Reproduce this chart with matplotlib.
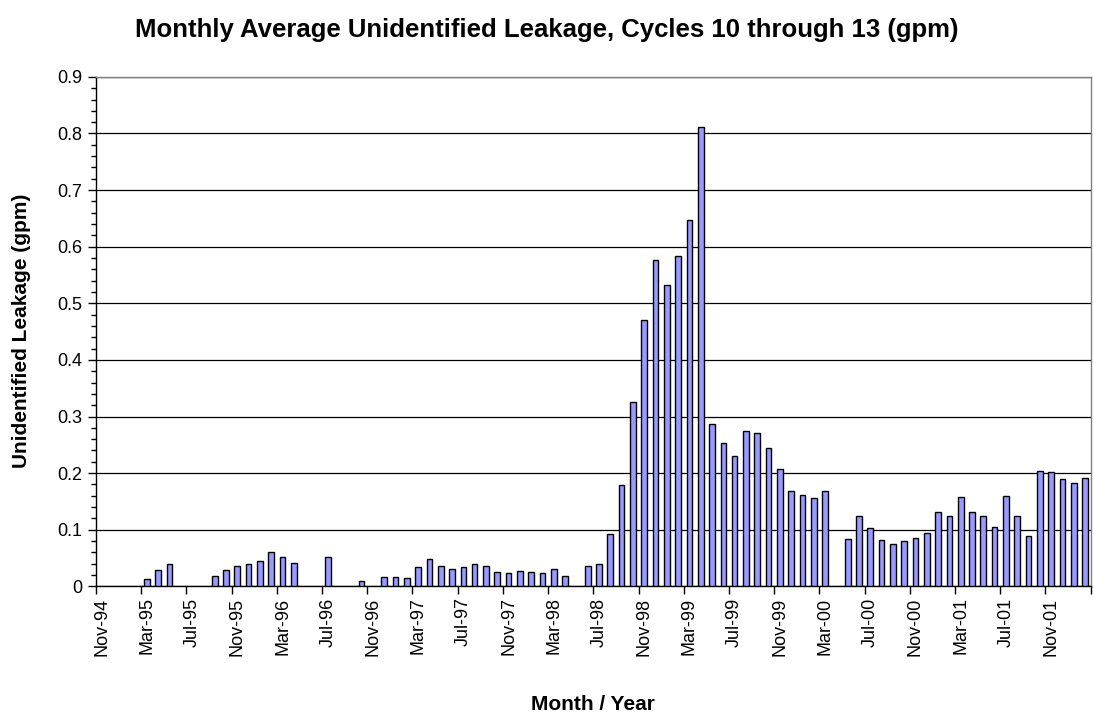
import matplotlib
matplotlib.use("Agg")
import matplotlib.pyplot as plt
import numpy as np
import pandas as pd
from matplotlib.ticker import MultipleLocator, FixedLocator

plt.rcParams['font.family'] = ['Liberation Sans', 'DejaVu Sans']

# Categories: monthly, Nov-1994 through Feb-2002
start_month = "1994-11-01"
end_month = "2002-02-01"
months = pd.date_range(start_month, end_month, freq="MS")
month_labels = [m.strftime("%b-%y") for m in months]

# Monthly average unidentified leakage (gpm); None = no data
leakage = [
    None, None, None, None, 0.013, 0.029, 0.040, None, None, None,   # Nov-94 .. Aug-95
    0.018, 0.029, 0.035, 0.040, 0.045, 0.060, 0.052, 0.042, None, None,  # Sep-95 .. Jun-96
    0.052, None, None, 0.010, None, 0.016, 0.017, 0.015, 0.034, 0.048,   # Jul-96 .. Apr-97
    0.035, 0.031, 0.034, 0.040, 0.036, 0.025, 0.024, 0.027, 0.025, 0.023,  # May-97 .. Feb-98
    0.031, 0.019, None, 0.035, 0.039, 0.092, 0.179, 0.325, 0.471, 0.577,  # Mar-98 .. Dec-98
    0.532, 0.584, 0.648, 0.811, 0.286, 0.254, 0.231, 0.275, 0.271, 0.244,  # Jan-99 .. Oct-99
    0.208, 0.168, 0.162, 0.156, 0.168, None, 0.084, 0.124, 0.103, 0.081,  # Nov-99 .. Aug-00
    0.075, 0.080, 0.085, 0.094, 0.132, 0.124, 0.157, 0.131, 0.124, 0.104,  # Sep-00 .. Jun-01
    0.159, 0.125, 0.089, 0.204, 0.202, 0.189, 0.183, 0.192,              # Jul-01 .. Feb-02
]

y_ticks = [0, 0.1, 0.2, 0.3, 0.4, 0.5, 0.6, 0.7, 0.8, 0.9]
label_step = 4

title = "Monthly Average Unidentified Leakage, Cycles 10 through 13 (gpm)"
x_title = "Month / Year"
y_title = "Unidentified Leakage (gpm)"

fig = plt.figure(figsize=(10.94, 7.19), dpi=100)
ax = fig.add_axes([96/1094, 1 - 586.3/719, (1090.7 - 96)/1094, (586.3 - 76.9)/719])

x = np.arange(len(month_labels))
vals = np.array([np.nan if v is None else v for v in leakage], dtype=float)
mask = ~np.isnan(vals)

ax.set_axisbelow(True)
ax.yaxis.grid(True, which='major', color='black', linewidth=0.9)
ax.bar(x[mask], vals[mask], width=0.5, color='#9999FF', edgecolor='black', linewidth=1.0, zorder=3)

ax.set_xlim(-0.5, len(month_labels) - 0.5)
ax.set_ylim(0, 0.9)

# x ticks: labels centred on categories, marks at category boundaries
lab_pos = x[::label_step]
ax.xaxis.set_major_locator(FixedLocator(lab_pos))
ax.set_xticklabels([month_labels[i] for i in lab_pos], rotation=90, fontsize=13)
ax.xaxis.set_minor_locator(FixedLocator(np.arange(-0.5, len(month_labels), label_step)))
ax.tick_params(axis='x', which='major', length=0, pad=8)
ax.tick_params(axis='x', which='minor', length=6, width=1, direction='out', color='black')

ax.set_yticks(y_ticks)
ax.set_yticklabels([("%g" % t) for t in y_ticks], fontsize=13)
ax.yaxis.set_minor_locator(MultipleLocator(0.02))
ax.tick_params(axis='y', which='major', length=6, width=1, direction='out', pad=4)
ax.tick_params(axis='y', which='minor', length=3.5, width=1, direction='out')

for s in ['left', 'bottom']:
    ax.spines[s].set_color('black')
    ax.spines[s].set_linewidth(1.0)
for s in ['top', 'right']:
    ax.spines[s].set_color('#808080')
    ax.spines[s].set_linewidth(1.0)

fig.text(0.5, 1 - 30/719, title, ha='center', va='center', fontsize=18.5, fontweight='bold')
fig.text(593/1094, 1 - 705/719, x_title, ha='center', va='center', fontsize=15, fontweight='bold')
fig.text(22/1094, 1 - 331/719, y_title, ha='center', va='center', rotation=90, fontsize=15, fontweight='bold')

fig.savefig("out.png", dpi=100)
